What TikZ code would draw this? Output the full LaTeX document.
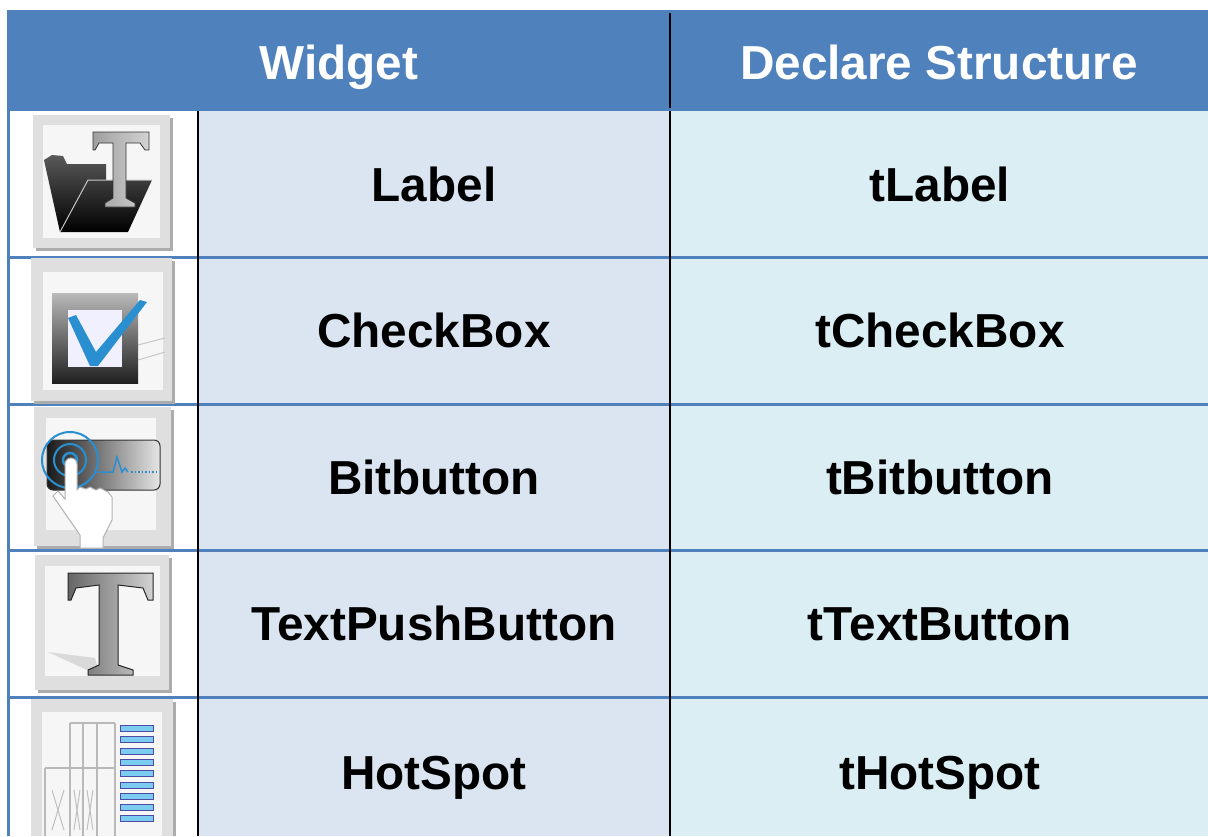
\documentclass[tikz,border=0pt]{standalone}
\usepackage{fontspec}
\setmainfont{Liberation Sans}
\usepackage{tikz}
\usetikzlibrary{positioning}
\definecolor{hdrblue}{HTML}{4F81BD}
\definecolor{widgetbg}{HTML}{DBE5F1}
\definecolor{declbg}{HTML}{DAEEF3}
\definecolor{iconblue}{HTML}{2A8FD0}
\definecolor{stripeblue}{HTML}{7CCBF0}
\newcommand{\cellfont}{\fontsize{47.7}{57}\selectfont\bfseries}

\begin{document}
\begin{tikzpicture}[x=1pt,y=-1pt,
  hdrtext/.style={font=\cellfont,text=white,anchor=base,inner sep=0pt},
  celltext/.style={font=\cellfont,text=black,anchor=base,inner sep=0pt},
  rowline/.style={draw=hdrblue,line width=3pt},
  colline/.style={draw=black,line width=2.5pt},
  iconshadow/.style={fill=gray!65,draw=none},
  iconframe/.style={fill=gray!25,draw=none},
  iconface/.style={fill=gray!7,draw=none}]
\useasboundingbox (0,0) rectangle (1208,836);
\fill[white] (0,0) rectangle (1208,836);

% header and column fills
\draw[fill=hdrblue,draw=none] (7,10) rectangle (1208,111);
\draw[fill=white,draw=none] (9,111) rectangle (198,836);
\draw[fill=widgetbg,draw=none] (198,111) rectangle (670,836);
\draw[fill=declbg,draw=none] (670,111) rectangle (1208,836);

% rules
\draw[rowline] (7,257) -- (1208,257);
\draw[rowline] (7,404) -- (1208,404);
\draw[rowline] (7,550) -- (1208,550);
\draw[rowline] (7,697) -- (1208,697);
\draw[draw=hdrblue,line width=3pt] (8.5,10) -- (8.5,836);
\draw[colline] (670,13) -- (670,108);
\draw[colline] (198,111) -- (198,836);
\draw[colline] (670,111) -- (670,836);

% texts
\node[hdrtext] (hWidget) at (339,79) {Widget};
\node[hdrtext] (hDeclare) at (939,79) {Declare Structure};
\node[celltext] (wLabel) at (434,201) {Label};
\node[celltext] (dLabel) at (940,201) {tLabel};
\node[celltext] (wCheck) at (434,347.5) {CheckBox};
\node[celltext] (dCheck) at (940,347.5) {tCheckBox};
\node[celltext] (wBit) at (434,494) {Bitbutton};
\node[celltext] (dBit) at (940,494) {tBitbutton};
\node[celltext] (wText) at (434,640.5) {TextPushButton};
\node[celltext] (dText) at (940,640.5) {tTextButton};
\node[celltext] (wHot) at (434,789) {HotSpot};
\node[celltext] (dHot) at (940,789) {tHotSpot};

% icon: label
\fill[iconshadow] (36,118) rectangle (173,251);
\fill[iconframe] (33,115) rectangle (170,248);
\fill[iconface] (43,125) rectangle (160,238);
\draw[draw=none,top color=gray!70!black,bottom color=black] (44,160) -- (52,155) -- (63,156) -- (67,164) -- (106,164) -- (106,180) -- (152,180) -- (128,232) -- (60,232) -- cycle;
\draw[gray!45,line width=1pt] (60,232) -- (88,180) -- (152,180);
\draw[draw=gray!40!black,line width=0.8pt,left color=gray!75,right color=gray!35] (93,132) -- (149,132) -- (149,150) -- (145,150) -- (140,143) -- (126,143) -- (126,198) -- (135,203) -- (135,207) -- (105,207) -- (105,203) -- (113,198) -- (113,143) -- (99,143) -- (95,150) -- (93,150) -- cycle;

% icon: checkbox
\fill[iconshadow] (34,261) rectangle (175,404);
\fill[iconframe] (31,258) rectangle (172,401);
\fill[iconface] (43,272) rectangle (163,390);
\draw[gray!45,line width=1pt] (138,345) -- (165,338);
\draw[gray!45,line width=1pt] (138,360) -- (165,352);
\draw[draw=none,top color=gray!55,bottom color=gray!25!black] (52,293) rectangle (138,383);
\fill[blue!6] (68,310) rectangle (122,367);
\fill[iconblue] (68,318) -- (76,315) -- (96,352) -- (140,300) -- (147,302) -- (98,366) -- (90,366) -- cycle;

% icon: bitbutton
\fill[iconshadow] (37,410) rectangle (174,549);
\fill[iconframe] (34,407) rectangle (171,546);
\fill[iconface] (46,418) rectangle (156,530);
\draw[draw=gray!40!black,line width=1pt,rounded corners=6pt,left color=black!90,right color=gray!20] (47,440) rectangle (160,490);
\draw[iconblue,line width=2pt] (70,460) circle[radius=28pt];
\draw[iconblue,line width=2pt] (70,460) circle[radius=16pt];
\draw[iconblue,line width=2.5pt] (70,460) circle[radius=7pt];
\draw[iconblue,line width=1.5pt] (98,472) -- (113,472) -- (117,457) -- (122,472) -- (125,468) -- (128,472);
\draw[iconblue,line width=1.5pt,dotted] (131,472) -- (158,472);
\draw[fill=white,draw=gray!60,line width=1pt] (65,464) arc[start angle=180,end angle=0,radius=6pt] -- (77,490) -- (80,487) -- (86,489) -- (90,487) -- (96,490) -- (100,488) -- (108,492) -- (112,497) -- (112,520) -- (103,538) -- (103,548) -- (80,548) -- (80,535) -- (53,496) -- (58,491) -- (65,499) -- cycle;

% icon: textpushbutton
\fill[iconshadow] (38,558) rectangle (172,693);
\fill[iconframe] (35,555) rectangle (169,690);
\fill[iconface] (45,566) rectangle (160,676);
\fill[gray!30] (48,652) -- (95,658) -- (100,676) -- cycle;
\draw[draw=gray!30!black,line width=1pt,left color=gray!80!black,right color=gray!35] (68,573) -- (153,573) -- (153,600) -- (148,600) -- (143,588) -- (118,585) -- (118,665) -- (133,670) -- (133,675) -- (88,675) -- (88,670) -- (99,665) -- (99,585) -- (76,588) -- (71,600) -- (68,600) -- cycle;

% icon: hotspot
\fill[iconshadow] (34,702) rectangle (176,836);
\fill[iconframe] (31,699) rectangle (173,836);
\fill[iconface] (42,712) rectangle (162,836);
\draw[gray!55,line width=1.5pt] (70,723) -- (115,723);
\draw[gray!55,line width=1.5pt] (70,723) -- (70,836);
\draw[gray!55,line width=1.5pt] (83,723) -- (83,836);
\draw[gray!55,line width=1.5pt] (97,723) -- (97,836);
\draw[gray!55,line width=1.5pt] (45,768) -- (115,768);
\draw[gray!55,line width=1.5pt] (45,768) -- (45,836);
\draw[gray!55,line width=1.5pt] (115,723) -- (115,836);
\draw[gray!50,line width=1pt] (52,790) -- (64,830);
\draw[gray!50,line width=1pt] (64,790) -- (52,830);
\draw[gray!50,line width=1pt] (74,790) -- (80,830);
\draw[gray!50,line width=1pt] (80,790) -- (74,830);
\draw[gray!50,line width=1pt] (87,790) -- (93,830);
\draw[gray!50,line width=1pt] (93,790) -- (87,830);
\draw[fill=stripeblue,draw=blue!50!black!70,line width=0.8pt] (120,725) rectangle (153,731);
\draw[fill=stripeblue,draw=blue!50!black!70,line width=0.8pt] (120,736) rectangle (153,742);
\draw[fill=stripeblue,draw=blue!50!black!70,line width=0.8pt] (120,748) rectangle (153,754);
\draw[fill=stripeblue,draw=blue!50!black!70,line width=0.8pt] (120,759) rectangle (153,765);
\draw[fill=stripeblue,draw=blue!50!black!70,line width=0.8pt] (120,770) rectangle (153,776);
\draw[fill=stripeblue,draw=blue!50!black!70,line width=0.8pt] (120,782) rectangle (153,788);
\draw[fill=stripeblue,draw=blue!50!black!70,line width=0.8pt] (120,793) rectangle (153,799);
\draw[fill=stripeblue,draw=blue!50!black!70,line width=0.8pt] (120,804) rectangle (153,810);
\draw[fill=stripeblue,draw=blue!50!black!70,line width=0.8pt] (120,815) rectangle (153,821);

\end{tikzpicture}
\end{document}
